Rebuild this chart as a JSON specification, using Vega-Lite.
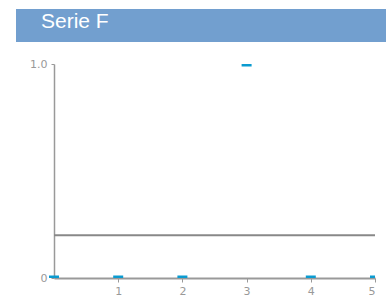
{
  "$schema": "https://vega.github.io/schema/vega-lite/v6.json",
  "padding": {"left": 16, "top": 9, "right": 0, "bottom": 0},
  "background": "white",
  "spacing": 22,
  "bounds": "flush",
  "config": {"view": {"stroke": null}},
  "vconcat": [
    {
      "width": 370,
      "height": 33,
      "view": {"fill": "#729fcf", "stroke": null},
      "data": {"values": [{"label": "Serie F"}]},
      "mark": {"type": "text", "align": "left", "baseline": "middle", "font": "Liberation Sans", "fontSize": 21, "color": "white", "x": 25, "y": 13},
      "encoding": {"text": {"field": "label"}}
    },
    {
      "width": 359,
      "height": 214,
      "layer": [
        {
          "data": {"values": [{"level": 0.2, "from": 0, "to": 5}]},
          "mark": {"type": "rule", "color": "#888888", "strokeWidth": 2},
          "encoding": {
            "y": {"field": "level", "type": "quantitative"},
            "x": {"field": "from", "type": "quantitative"},
            "x2": {"field": "to"}
          }
        },
        {
          "data": {"values": [
            {"x": 0, "y": 0}, {"x": 1, "y": 0}, {"x": 2, "y": 0},
            {"x": 3, "y": 1}, {"x": 4, "y": 0}, {"x": 5, "y": 0}
          ]},
          "mark": {"type": "point", "filled": true, "opacity": 1, "clip": true, "shape": "M-1,-0.5H1V0.5H-1Z", "size": 100, "color": "#0b9bd0"},
          "encoding": {
            "x": {"field": "x", "type": "quantitative", "scale": {"domain": [0, 5], "range": [38, 359], "nice": false, "zero": false},
              "axis": {"values": [1, 2, 3, 4, 5], "format": "d", "title": null, "grid": false, "domainColor": "#999999", "domainWidth": 2, "tickColor": "#999999", "tickSize": 4, "labelColor": "#999999", "labelFont": "DejaVu Sans", "labelFontSize": 11, "labelPadding": 3}},
            "y": {"field": "y", "type": "quantitative", "scale": {"domain": [0, 1], "nice": false},
              "axis": {"values": [0, 1], "title": null, "grid": false, "offset": -38, "labelExpr": "datum.value == 0 ? '0' : format(datum.value, '.1f')", "domainColor": "#999999", "domainWidth": 1.5, "tickColor": "#999999", "tickSize": 3, "labelColor": "#999999", "labelFont": "DejaVu Sans", "labelFontSize": 11, "labelPadding": 4}}
          }
        }
      ]
    }
  ]
}
